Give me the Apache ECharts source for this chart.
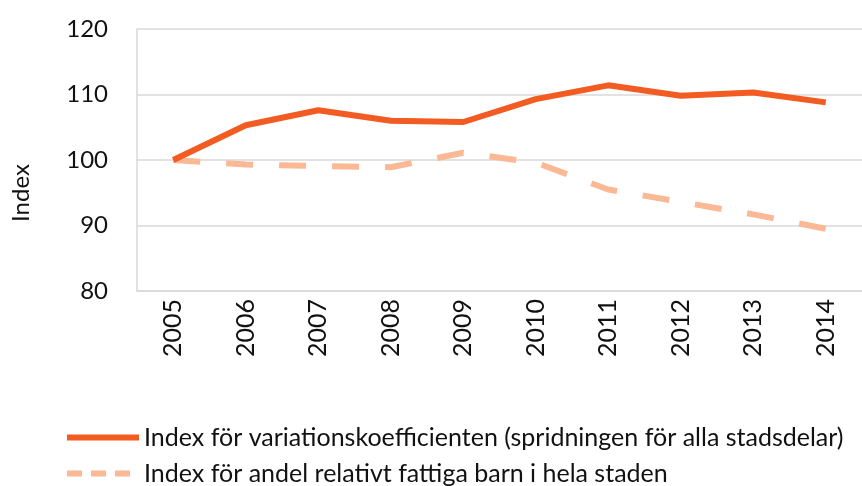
<!DOCTYPE html>
<html>
<head>
<meta charset="utf-8">
<script src="https://cdn.jsdelivr.net/npm/echarts@6/dist/echarts.min.js"></script>
<style>
  html, body { margin: 0; padding: 0; background: #fff; }
  #chart { width: 862px; height: 486px; }
</style>
</head>
<body>
<div id="chart"></div>
<script>
// år på x-axeln
const years = ['2005', '2006', '2007', '2008', '2009', '2010', '2011', '2012', '2013', '2014']
// index för variationskoefficienten
const spridning = [100, 105.3, 107.6, 106.0, 105.8, 109.3, 111.4, 109.8, 110.3, 108.8]
// index för andel relativt fattiga barn
const fattigaBarn = [100, 99.3, 99.1, 98.9, 101.1, 99.6, 95.5, 93.6, 91.7, 89.5]
const yTicks = { min: 80, max: 120, interval: 10 }

const nameSolid = 'Index för variationskoefficienten (spridningen för alla stadsdelar)'
const nameDashed = 'Index för andel relativt fattiga barn i hela staden'
const font = 'Lato, "Open Sans", sans-serif'

let myChart = echarts.init(document.getElementById('chart'))
myChart.setOption({
  animation: false,
  textStyle: { fontFamily: font },
  grid: { left: 137, top: 29, width: 732, bottom: 195 },
  legend: {
    orient: 'vertical',
    left: 64,
    top: 425,
    padding: 0,
    itemWidth: 72,
    itemHeight: 14,
    itemGap: 11,
    itemStyle: { opacity: 0 },
    textStyle: { fontSize: 25, color: '#111', fontFamily: font },
    data: [
      { name: nameSolid, lineStyle: { width: 6 } },
      { name: nameDashed, lineStyle: { width: 6, type: [15, 9] } },
    ],
  },
  xAxis: {
    type: 'category',
    data: years,
    axisLine: { lineStyle: { color: '#d9d9d9', width: 1.5 } },
    axisTick: { show: false },
    axisLabel: { rotate: 90, margin: 8, fontSize: 25, color: '#111', fontFamily: font },
  },
  yAxis: {
    type: 'value',
    min: yTicks.min,
    max: yTicks.max,
    interval: yTicks.interval,
    name: 'Index',
    nameLocation: 'middle',
    nameGap: 104,
    nameTextStyle: { fontSize: 24, color: '#111', fontFamily: font, padding: [0, 66, 0, 0] },
    axisLine: { show: true, lineStyle: { color: '#d9d9d9', width: 1.5 } },
    axisTick: { show: false },
    axisLabel: { margin: 29, fontSize: 24, color: '#111', fontFamily: font },
    splitLine: { lineStyle: { color: '#d9d9d9', width: 1.5 } },
  },
  series: [
    {
      name: nameSolid,
      type: 'line',
      data: spridning,
      symbol: 'none',
      color: '#f25c22',
      lineStyle: { width: 6, color: '#f25c22' },
      z: 3,
    },
    {
      name: nameDashed,
      type: 'line',
      data: fattigaBarn,
      symbol: 'none',
      color: '#fbb894',
      lineStyle: { width: 6, color: '#fbb894', type: [27, 26] },
      z: 2,
    },
  ],
})
</script>
</body>
</html>
